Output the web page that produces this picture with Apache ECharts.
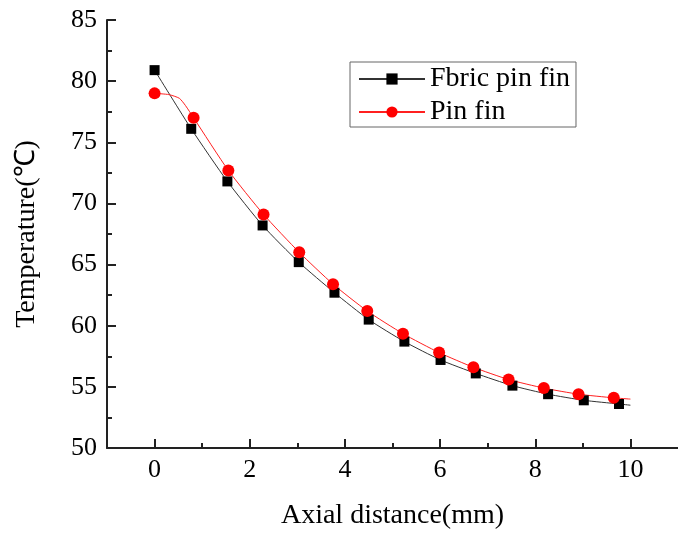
<!DOCTYPE html>
<html>
<head>
<meta charset="utf-8">
<script src="https://cdn.jsdelivr.net/npm/echarts@6/dist/echarts.min.js"></script>
<style>html,body{margin:0;padding:0;background:#fff;}#c{width:678px;height:536px;}</style>
</head>
<body>
<div id="c"></div>
<script>
// Marker points
var fabricX = [0, 0.77, 1.53, 2.27, 3.03, 3.78, 4.5, 5.25, 6.01, 6.75, 7.52, 8.27, 9.02, 9.76];
var fabricY = [80.9, 76.1, 71.8, 68.2, 65.2, 62.7, 60.5, 58.7, 57.2, 56.1, 55.1, 54.4, 53.9, 53.6];
var pinX = [0, 0.82, 1.55, 2.29, 3.04, 3.75, 4.47, 5.22, 5.98, 6.7, 7.44, 8.18, 8.91, 9.65];
var pinY = [79.0, 77.0, 72.7, 69.1, 66.0, 63.4, 61.2, 59.35, 57.8, 56.6, 55.6, 54.9, 54.4, 54.1];
// Extra curve points (no marker)
var fabricCurveX = [10];
var fabricCurveY = [53.5];
var pinCurveX = [0.3, 0.52, 0.65, 10];
var pinCurveY = [78.9, 78.6, 78.0, 54.0];

var xMajorTicks = [0, 2, 4, 6, 8, 10];
var xMinorTicks = [1, 3, 5, 7, 9];
var seriesNames = ['Fbric pin fin', 'Pin fin'];

function build(mx, my, cx, cy) {
  var pts = [];
  for (var i = 0; i < mx.length; i++) pts.push({value: [mx[i], my[i]]});
  for (var j = 0; j < cx.length; j++) pts.push({value: [cx[j], cy[j]], symbol: 'none'});
  pts.sort(function (a, b) { return a.value[0] - b.value[0]; });
  return pts;
}

var FONT = 'Liberation Serif';
var AX = '#222';
var chart = echarts.init(document.getElementById('c'), null, {renderer: 'canvas'});
chart.setOption({
  animation: false,
  backgroundColor: '#fff',
  grid: {left: 107, top: 20, right: -4, bottom: 88, containLabel: false},
  legend: {
    left: 350, top: 62,
    orient: 'vertical',
    data: seriesNames,
    itemWidth: 66, itemHeight: 14, itemGap: 5,
    padding: [3, 6, 1, 8],
    borderColor: '#666', borderWidth: 1,
    textStyle: {fontFamily: FONT, fontSize: 28, color: '#000'}
  },
  xAxis: [{
    type: 'value', min: -1, max: 11, interval: 1,
    name: 'Axial distance(mm)', nameLocation: 'middle', nameGap: 54,
    nameTextStyle: {fontFamily: FONT, fontSize: 28, color: '#000'},
    splitLine: {show: false},
    axisLine: {show: true, onZero: false, lineStyle: {color: AX, width: 2}},
    axisTick: {show: true, inside: true, length: 9, customValues: xMajorTicks, lineStyle: {color: AX, width: 2}},
    axisLabel: {customValues: xMajorTicks, fontFamily: FONT, fontSize: 26, color: '#000', margin: 9}
  }, {
    type: 'value', min: -1, max: 11, interval: 1, position: 'bottom',
    splitLine: {show: false},
    axisLine: {show: false, onZero: false},
    axisTick: {show: true, inside: true, length: 5, customValues: xMinorTicks, lineStyle: {color: AX, width: 2}},
    axisLabel: {show: false}
  }],
  yAxis: {
    type: 'value', min: 50, max: 85, interval: 5,
    name: 'Temperature(\u2103)', nameLocation: 'middle', nameGap: 66,
    nameTextStyle: {fontFamily: FONT, fontSize: 28, color: '#000'},
    splitLine: {show: false},
    axisLine: {show: true, onZero: false, lineStyle: {color: AX, width: 2}},
    axisTick: {show: true, inside: true, length: 9, lineStyle: {color: AX, width: 2}},
    minorTick: {show: true, splitNumber: 2, length: 5, lineStyle: {color: AX, width: 2}},
    axisLabel: {fontFamily: FONT, fontSize: 26, color: '#000', margin: 10}
  },
  series: [{
    name: seriesNames[0], type: 'line', xAxisIndex: 0,
    data: build(fabricX, fabricY, fabricCurveX, fabricCurveY),
    smooth: 0.2, showAllSymbol: true,
    symbol: 'rect', symbolSize: 10,
    itemStyle: {color: '#000'},
    lineStyle: {color: '#333', width: 1}
  }, {
    name: seriesNames[1], type: 'line', xAxisIndex: 0,
    data: build(pinX, pinY, pinCurveX, pinCurveY),
    smooth: 0.2, showAllSymbol: true,
    symbol: 'circle', symbolSize: 12,
    itemStyle: {color: '#ff0000'},
    lineStyle: {color: '#ff2020', width: 1}
  }]
});
</script>
</body>
</html>
